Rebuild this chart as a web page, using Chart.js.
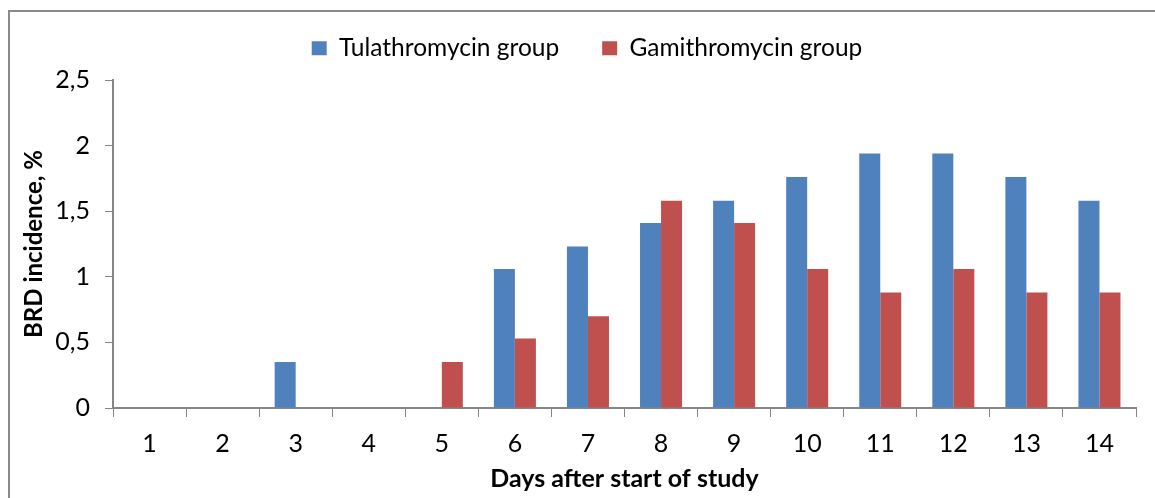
<!DOCTYPE html>
<html>
<head>
<meta charset="utf-8">
<script src="https://cdn.jsdelivr.net/npm/chart.js@4.4.1/dist/chart.umd.min.js"></script>
<style>
  html, body { margin: 0; padding: 0; background: #ffffff; }
  #wrap { position: relative; width: 1155px; height: 498px; }
</style>
</head>
<body>
<div id="wrap"><canvas id="c" width="1155" height="498"></canvas></div>
<script>
const days = ['1','2','3','4','5','6','7','8','9','10','11','12','13','14'];
const tulathromycin = [0, 0, 0.35, 0, 0, 1.06, 1.23, 1.41, 1.58, 1.76, 1.94, 1.94, 1.76, 1.58];
const gamithromycin = [0, 0, 0, 0, 0.35, 0.53, 0.70, 1.58, 1.41, 1.06, 0.88, 1.06, 0.88, 0.88];
const yTicks = [0, 0.5, 1, 1.5, 2, 2.5];
const seriesNames = ['Tulathromycin group', 'Gamithromycin group'];
const yTitle = 'BRD incidence, %';
const xTitle = 'Days after start of study';

const FONT = 'Lato, "Open Sans", sans-serif';
const AXIS = '#868686';

const frame = {
  id: 'frame',
  beforeInit(chart) {
    const lg = chart.legend;
    if (lg) {
      const orig = lg.fit.bind(lg);
      lg.fit = function () { orig(); this.height = 70; };
    }
  },
  afterLayout(chart) {
    const lg = chart.legend;
    if (lg) { lg.left += 9; lg.right += 9; lg.top -= 17; lg.bottom -= 17; }
  },
  beforeDraw(chart) {
    const ctx = chart.ctx;
    ctx.save();
    ctx.fillStyle = '#ffffff';
    ctx.fillRect(0, 0, chart.width, chart.height);
    ctx.strokeStyle = '#898989';
    ctx.lineWidth = 2;
    ctx.strokeRect(9, 11, chart.width + 20, chart.height + 20);
    ctx.restore();
  }
};

new Chart(document.getElementById('c'), {
  type: 'bar',
  data: {
    labels: days,
    datasets: [
      { label: seriesNames[0], data: tulathromycin, backgroundColor: '#4F81BD', borderWidth: 0 },
      { label: seriesNames[1], data: gamithromycin, backgroundColor: '#C0504D', borderWidth: 0 }
    ]
  },
  options: {
    responsive: false,
    animation: false,
    devicePixelRatio: 1,
    layout: { padding: { left: 20, right: 19, top: 10, bottom: 4 } },
    plugins: {
      legend: {
        position: 'top',
        labels: {
          font: { family: FONT, size: 24.5 },
          color: '#000000',
          boxWidth: 15,
          boxHeight: 14,
          padding: 43,
          generateLabels(chart) {
            return chart.data.datasets.map((ds, i) => ({
              text: ds.label, fillStyle: ds.backgroundColor, strokeStyle: ds.backgroundColor,
              lineWidth: 0, hidden: false, datasetIndex: i, fontColor: '#000'
            }));
          }
        }
      },
      tooltip: { enabled: false }
    },
    datasets: { bar: { categoryPercentage: 0.575, barPercentage: 1.0 } },
    scales: {
      x: {
        grid: { display: true, drawOnChartArea: false, drawTicks: true, tickLength: 9, color: AXIS, offset: true },
        border: { display: true, color: AXIS, width: 2 },
        ticks: { font: { family: FONT, size: 25 }, color: '#000', padding: 12, maxRotation: 0 },
        title: { display: true, text: xTitle, font: { family: FONT, size: 25, weight: 'bold' }, color: '#000', padding: { top: 4, bottom: 0 } },
        afterFit(s) { s.height = 86; }
      },
      y: {
        min: 0, max: 2.5,
        afterBuildTicks(s) { s.ticks = yTicks.map(v => ({ value: v })); },
        grid: { display: true, drawOnChartArea: false, drawTicks: true, tickLength: 8, color: AXIS },
        border: { display: true, color: AXIS, width: 2 },
        ticks: { font: { family: FONT, size: 25 }, color: '#000', padding: 15,
                 callback: v => String(v).replace('.', ',') },
        title: { display: true, text: yTitle, font: { family: FONT, size: 24, weight: 'bold' }, color: '#000', padding: { top: 0, bottom: 12 } },
        afterFit(s) { s.width = 93; }
      }
    }
  },
  plugins: [frame]
});
</script>
</body>
</html>
